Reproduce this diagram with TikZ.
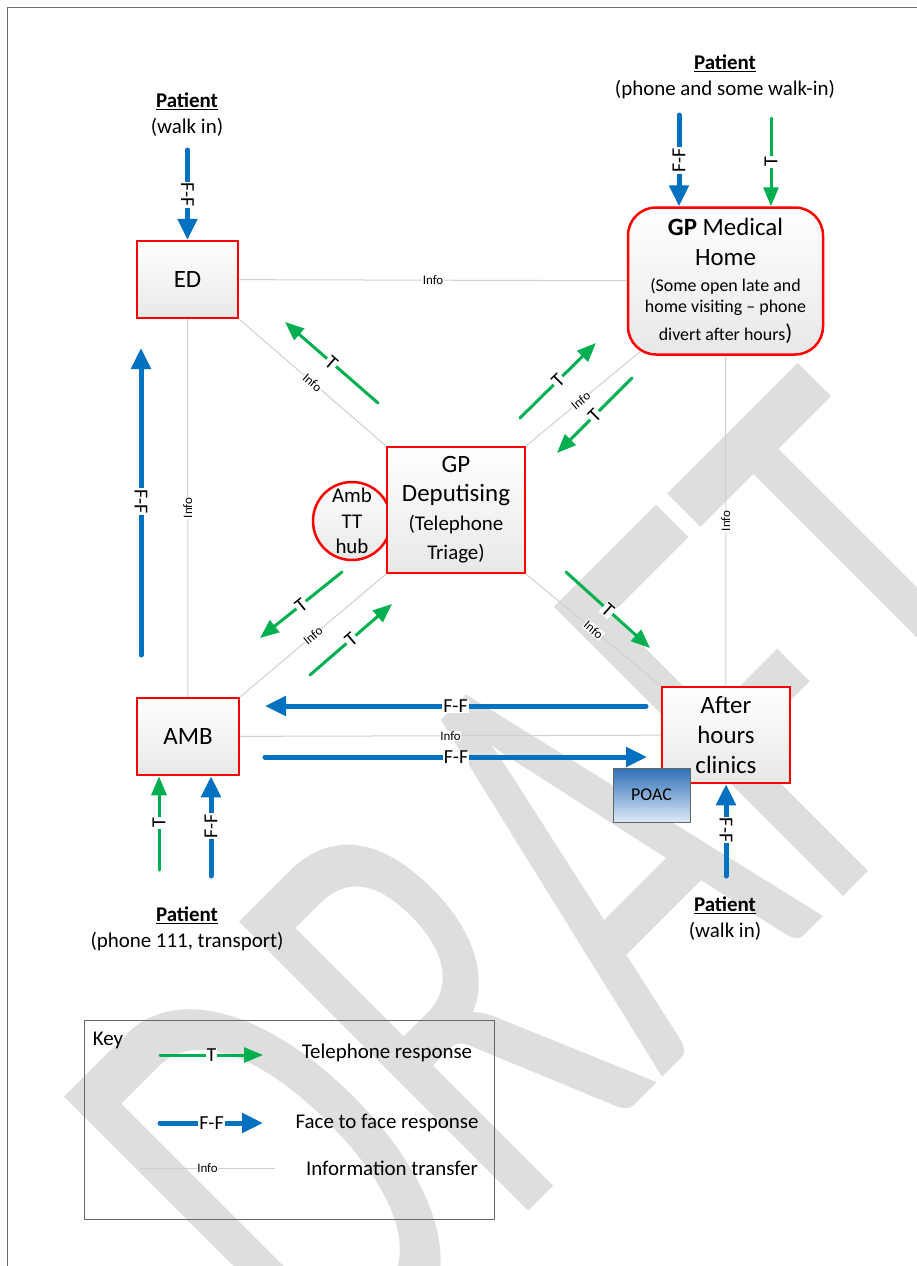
\documentclass[tikz,border=0pt]{standalone}
\usepackage{fontspec}
\setmainfont{Carlito}
\usetikzlibrary{arrows.meta}
\definecolor{boxred}{HTML}{FF0000}
\definecolor{ffblue}{HTML}{0070C0}
\definecolor{tgreen}{HTML}{00B050}
\definecolor{infogray}{HTML}{CFCFCF}
\definecolor{wmgray}{HTML}{DEDEDE}
\definecolor{poactop}{HTML}{2E6FB7}
\definecolor{poacbot}{HTML}{DCEAF7}
\definecolor{pageline}{HTML}{6E6E6E}

\begin{document}
\begin{tikzpicture}[
x=1bp,
y=-1bp,
unit/.style={
draw=boxred,
line width=2.5bp,
top color=white,
bottom color=black!9,
inner sep=0pt,
align=center,
font=\fontsize{25}{30}\selectfont
},
hub/.style={
unit,
circle,
minimum size=78bp,
font=\fontsize{21}{25.5}\selectfont
},
poac/.style={
draw=black!60,
line width=1bp,
top color=poactop,
bottom color=poacbot,
minimum width=77bp,
minimum height=54bp,
font=\fontsize{18}{18}\selectfont
},
patient/.style={align=center, font=\fontsize{21}{26}\selectfont},
info/.style={draw=infogray, line width=1bp},
infolbl/.style={fill=white, inner sep=0.6bp, font=\fontsize{13}{13}\selectfont},
ff/.style={draw=ffblue, line width=5bp, line cap=round, -{Triangle[length=21bp, width=19bp]}},
tel/.style={draw=tgreen, line width=3bp, line cap=round, -{Triangle[length=19bp, width=15bp]}},
lbl/.style={fill=white, inner sep=1bp, font=\fontsize{20}{20}\selectfont},
keytext/.style={font=\fontsize{21}{21}\selectfont}
]

\useasboundingbox (0,0) rectangle (917,1266);
\clip (0,0) rectangle (917,1266);

\node[text=wmgray, inner sep=0pt, anchor=base, rotate=45, yscale=1.6, font=\fontsize{400}{400}\selectfont] (draft) at (713,1027) {DRAFT};

\draw[pageline, line width=1bp] (7,1266) -- (7,7) -- (917,7);

\node[hub] (hub) at (352,521) {Amb\\TT\\hub};

\node[unit, minimum width=101bp, minimum height=77bp] (ED) at (187.5,279.5) {ED};

\node[unit, minimum width=102bp, minimum height=77bp] (AMB) at (188,736.5) {AMB};

\node[unit, minimum width=138bp, minimum height=126bp, font=\fontsize{25}{29}\selectfont] (GPD) at (456,510) {GP\\Deputising\\\fontsize{21}{29}\selectfont(Telephone\\\fontsize{21}{29}\selectfont Triage)};

\node[unit, rounded corners=28bp, minimum width=195bp, minimum height=147bp, font=\fontsize{18}{22}\selectfont] (GPMH) at (725.5,281) {\fontsize{25}{25}\selectfont\textbf{GP} Medical\\[8bp]\fontsize{25}{25}\selectfont Home\\[4bp](Some open late and\\home visiting – phone\\[6bp]divert after hours{\fontsize{23}{23}\selectfont)}};

\node[unit, minimum width=128bp, minimum height=96bp] (After) at (726,735) {After\\hours\\clinics};

\node[poac] (POAC) at (651.5,795) {POAC};

\node[patient] (ptED) at (187,115) {\underline{\textbf{Patient}}\\(walk in)};

\node[patient] (ptGP) at (725,76.5) {\underline{\textbf{Patient}}\\(phone and some walk-in)};

\node[patient] (ptAMB) at (187,929) {\underline{\textbf{Patient}}\\(phone 111, transport)};

\node[patient] (ptAH) at (725,919) {\underline{\textbf{Patient}}\\(walk in)};

\draw[info] (ED) -- node[infolbl] {Info} (GPMH);
\draw[info] (ED) -- node[infolbl, rotate=90] {Info} (AMB);
\draw[info] (ED.south east) -- node[infolbl, rotate=-41] {Info} (GPD.north west);
\draw[info, shorten >=-6bp] (GPD.north east) -- node[infolbl, rotate=40] {Info} (GPMH);
\draw[info] (GPD.south west) -- node[infolbl, rotate=40] {Info} (AMB.north east);
\draw[info] (GPD.south east) -- node[infolbl, rotate=-40] {Info} (After.north west);
\draw[info] (AMB) -- node[infolbl] {Info} (After);
\draw[info] (GPMH) -- node[infolbl, rotate=90] {Info} (After);

\coordinate (edIn) at (187.5,150);
\draw[ff] (edIn) -- node[lbl, rotate=-90] {F-F} (ED);

\coordinate (ambUp) at (141,655);
\coordinate (edUp) at (141,348);
\draw[ff] (ambUp) -- node[lbl, rotate=-90] {F-F} (edUp);

\coordinate (gpIn) at (679,115);
\draw[ff] (gpIn) -- node[lbl, rotate=90] {F-F} (gpIn |- GPMH.north);

\coordinate (gpInT) at (771,118);
\draw[tel] (gpInT) -- node[lbl, rotate=90] {T} (gpInT |- GPMH.north);

\coordinate (ambT) at (159,870);
\draw[tel] (ambT) -- node[lbl, rotate=90] {T} (ambT |- AMB.south);

\coordinate (ambF) at (211,876);
\draw[ff] (ambF) -- node[lbl, rotate=90] {F-F} (ambF |- AMB.south);

\coordinate (ahIn) at (726,876);
\draw[ff] (ahIn) -- node[lbl, rotate=-90] {F-F} (After);

\coordinate (ahOut) at (646,706);
\coordinate (ambIn) at (265,706);
\draw[ff] (ahOut) -- node[lbl] {F-F} (ambIn);

\coordinate (ambOut) at (265,757);
\coordinate (ahBack) at (647,757);
\draw[ff] (ambOut) -- node[lbl] {F-F} (ahBack);

\coordinate (t1a) at (378,403);
\coordinate (t1b) at (285,322);
\draw[tel] (t1a) -- node[lbl, rotate=-41] {T} (t1b);

\coordinate (t2a) at (520,418);
\coordinate (t2b) at (596,343);
\draw[tel] (t2a) -- node[lbl, rotate=45] {T} (t2b);

\coordinate (t3a) at (632,378);
\coordinate (t3b) at (557,453);
\draw[tel] (t3a) -- node[lbl, rotate=45] {T} (t3b);

\coordinate (t4a) at (342,572);
\coordinate (t4b) at (260,638);
\draw[tel] (t4a) -- node[lbl, rotate=39] {T} (t4b);

\coordinate (t5a) at (310,675);
\coordinate (t5b) at (392,604);
\draw[tel] (t5a) -- node[lbl, rotate=41] {T} (t5b);

\coordinate (t6a) at (566,572);
\coordinate (t6b) at (650,648);
\draw[tel] (t6a) -- node[lbl, rotate=-42] {T} (t6b);

\node[draw=black!60, line width=1bp, minimum width=409bp, minimum height=199bp] (keybox) at (289.5,1119.5) {};

\node[keytext] (keyhd) at (108,1040) {Key};

\coordinate (k1a) at (160,1055);
\coordinate (k1b) at (263,1055);
\draw[tel] (k1a) -- node[lbl] {T} (k1b);
\node[keytext] (k1txt) at (387,1053) {Telephone response};

\coordinate (k2a) at (160,1123);
\coordinate (k2b) at (263,1123);
\draw[ff] (k2a) -- node[lbl] {F-F} (k2b);
\node[keytext] (k2txt) at (387,1123) {Face to face response};

\coordinate (k3a) at (140,1168);
\coordinate (k3b) at (275,1168);
\draw[info] (k3a) -- node[infolbl] {Info} (k3b);
\node[keytext] (k3txt) at (392,1168) {Information transfer};

\end{tikzpicture}
\end{document}
